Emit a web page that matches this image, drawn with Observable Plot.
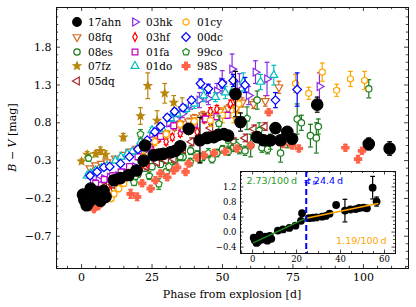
<!DOCTYPE html>
<html><head><meta charset="utf-8">
<script src="https://cdn.jsdelivr.net/npm/d3@7"></script>
<script src="https://cdn.jsdelivr.net/npm/@observablehq/plot@0.6"></script>
<style>
body{margin:0;background:#fff;}
#wrap{position:relative;width:416px;height:307px;font-family:"DejaVu Serif",serif;overflow:hidden;}
#wrap svg{position:absolute;}
.lg{position:absolute;display:flex;align-items:center;font-family:"DejaVu Serif",serif;font-size:10.5px;color:#000;white-space:nowrap;}
.lg svg{position:static !important;margin-right:5px;overflow:visible;}
</style></head><body><div id="wrap"></div>
<script>
// ---------------- data ----------------
const sn17ahnDays=[0.5,1.0,1.8,2.5,3.2,4.3,5.0,5.8,6.7,7.8,8.5,11.5,13.8,16.7,19.5,22.0,22.5,25.6,27.4,29.0,31.6,33.3,35.0,38.0,42.0,44.5,46.9,48.5,50.5,52.0,54.6,56.4,62.3,64.6,67.0,68.8,70.6,73.0,74.7,83.6,101.9,109.3];
const sn17ahnBV=[-0.15,-0.22,-0.29,-0.25,-0.07,-0.20,-0.15,-0.12,-0.23,-0.10,-0.18,0.04,0.07,0.11,0.17,0.30,0.50,0.37,0.38,0.39,0.41,0.43,0.49,0.72,0.57,0.60,0.61,0.64,0.65,0.63,1.18,0.81,0.61,0.57,0.57,0.73,0.57,0.68,0.59,1.04,0.52,0.46];
const sn17ahnErr=[0.03,0.03,0.03,0.03,0.03,0.03,0.03,0.03,0.03,0.03,0.03,0.03,0.03,0.03,0.03,0.03,0.03,0.03,0.03,0.03,0.03,0.03,0.03,0.04,0.3,0.03,0.03,0.03,0.03,0.03,0.3,0.12,0.03,0.03,0.03,0.04,0.03,0.03,0.03,0.1,0.08,0.09];

const sn08fqDays=[3,5,7,9,12,15,17,19.7,22,24.5,27,30,33,35,38,40,43,46.3,49,52,55,57,61,65.2,70];
const sn08fqBV=[0.2,0.24,0.26,0.28,0.33,0.38,0.42,0.46,0.5,0.54,0.6,0.66,0.74,0.79,0.82,0.87,0.9,0.9,0.95,0.99,1.0,1.07,1.05,1.09,1.27];
const sn08fqErr=[0.02,0.02,0.02,0.02,0.02,0.02,0.03,0.03,0.03,0.03,0.03,0.03,0.04,0.04,0.04,0.04,0.05,0.05,0.05,0.05,0.06,0.06,0.06,0.07,0.08];

const sn08esDays=[20,22.5,25,28,30,33,36,38.7,41,43,46.3,48,50,52,54,56,58,60,62.3,64,66,70.6,73,76.5,78,81.2,83.3,84,101.9];
const sn08esBV=[0.12,0.2,0.22,0.25,0.15,0.3,0.35,0.43,0.38,0.35,0.32,0.4,0.45,0.42,0.48,0.45,0.43,0.5,1.1,0.47,0.45,0.4,0.55,0.85,0.8,0.63,0.6,0.75,1.25];
const sn08esErr=[0.04,0.04,0.04,0.04,0.04,0.05,0.05,0.05,0.05,0.05,0.05,0.05,0.05,0.05,0.06,0.06,0.06,0.15,0.12,0.06,0.06,0.12,0.08,0.2,0.1,0.15,0.2,0.1,0.12];

const sn07fzDays=[0,2,5,6.7,8.5,14.8,20.9,23.5,26.8,29.5,32.7,35.7];
const sn07fzBV=[0.29,0.38,0.39,0.43,0.38,0.61,0.89,1.29,0.83,1.19,1.07,1.0];
const sn07fzErr=[0.03,0.04,0.04,0.05,0.05,0.05,0.11,0.17,0.13,0.13,0.09,0.13];

const sn05dqDays=[8,11,14,17,20,23,26.8,30,32.7,36,39,43.4,45.7,50,54,58,61.1,65];
const sn05dqBV=[-0.05,-0.02,0.02,0.08,0.15,0.22,0.28,0.3,0.32,0.45,0.55,0.87,0.73,0.65,0.55,0.6,0.72,0.75];
const sn05dqErr=[0.04,0.04,0.04,0.04,0.04,0.04,0.04,0.04,0.04,0.04,0.05,0.05,0.05,0.05,0.05,0.05,0.05,0.05];

const sn03hkDays=[4,6,8,10,13,16,19,22,25,28,31,33.5,35.7,38.7,41.8,45,48,49.9,53.4,56,59.3,61.7,65.8,84.4];
const sn03hkBV=[0.02,0.04,0.06,0.08,0.1,0.14,0.22,0.42,0.65,0.75,0.8,0.85,0.92,1.04,1.1,1.12,1.22,1.34,1.51,1.3,1.16,1.47,1.38,1.28];
const sn03hkErr=[0.02,0.02,0.02,0.02,0.03,0.03,0.03,0.03,0.04,0.04,0.05,0.05,0.05,0.06,0.1,0.08,0.1,0.15,0.2,0.15,0.12,0.15,0.22,0.18];

const sn03hfDays=[3,4.4,6,8,10,13,16,19,21,23.3,25,27.4,30,32.2,35,38,41,43.5,45.7,48,52.8,54.6];
const sn03hfBV=[-0.3,-0.33,-0.28,-0.2,-0.1,0.0,0.08,0.15,0.2,0.26,0.45,0.59,0.55,0.61,0.66,0.7,0.68,0.85,0.95,0.98,1.05,1.1];
const sn03hfErr=[0.03,0.03,0.03,0.03,0.03,0.03,0.03,0.03,0.03,0.03,0.04,0.04,0.04,0.04,0.04,0.04,0.05,0.05,0.05,0.05,0.05,0.06];

const sn01faDays=[5,8,11,14,17,20,24,28,32.7,36,40,44,48,51.7];
const sn01faBV=[0.0,0.05,0.1,0.15,0.22,0.35,0.48,0.62,0.76,0.72,0.78,0.85,0.88,0.9];
const sn01faErr=[0.04,0.04,0.04,0.04,0.04,0.04,0.04,0.04,0.04,0.04,0.04,0.04,0.04,0.04];

const sn01doDays=[2,3.2,5,7,9,12,14,16.2,18,21,25,28.6,31.6,33.9,37,40,43.3,47.5,51,54,57.4,63.5,68.2];
const sn01doBV=[0.1,0.13,0.17,0.2,0.23,0.3,0.35,0.39,0.42,0.55,0.7,0.72,0.86,0.92,0.98,1.05,1.16,1.14,1.2,1.25,1.34,1.34,1.43];
const sn01doErr=[0.03,0.03,0.03,0.03,0.03,0.03,0.03,0.03,0.03,0.03,0.04,0.04,0.04,0.04,0.04,0.06,0.08,0.06,0.08,0.08,0.12,0.1,0.13];

const sn01cyDays=[4.5,5.6,7,9,10.5,11.5,13.2,15,18,22,26,30,35,40,45.7,50,54,55.8,75.9,80.6,85.4,90.5,95.4,100.4];
const sn01cyBV=[-0.3,-0.27,-0.22,-0.2,-0.2,-0.14,-0.07,0.0,0.15,0.35,0.55,0.65,0.78,0.82,0.83,0.9,0.9,1.05,1.32,1.19,1.47,1.23,1.38,1.36];
const sn01cyErr=[0.04,0.04,0.04,0.04,0.04,0.04,0.04,0.04,0.05,0.05,0.05,0.05,0.05,0.05,0.08,0.1,0.1,0.12,0.12,0.08,0.12,0.08,0.1,0.12];

const sn00dcDays=[3,5.5,7.9,10,13.8,17,20,23.3,26,28,30.4,33,36,39,42.2,45,49.9,53.8,58,68.8,76.5];
const sn00dcBV=[0.1,0.15,0.21,0.22,0.26,0.35,0.45,0.57,0.68,0.75,0.87,0.95,1.0,1.1,1.32,1.25,1.32,1.36,1.3,1.1,1.24];
const sn00dcErr=[0.03,0.03,0.03,0.03,0.03,0.03,0.03,0.03,0.04,0.04,0.04,0.04,0.04,0.04,0.06,0.06,0.06,0.08,0.1,0.1,0.22];

const sn99coDays=[2.5,18.6,19.1,20.9,24,27.4,31,35,38.6,42,45,48.7,52,55,58.7,63,67];
const sn99coBV=[0.33,0.01,0.09,0.65,0.1,-0.01,0.22,0.35,0.28,0.33,0.4,0.79,0.57,0.5,0.86,0.7,0.55];
const sn99coErr=[0.04,0.04,0.04,0.06,0.05,0.07,0.05,0.05,0.05,0.06,0.06,0.1,0.08,0.08,0.15,0.1,0.1];

const sn98SDays=[4.4,6,17.4,19.7,21.5,24.5,26.2,28,30.4,32.7,33.9,36.9,38,41,43.4,47,51,55.2,60,66.4,70,71.5,74.7,77.1,93.6,98.1,99.5];
const sn98SBV=[-0.34,-0.3,-0.14,-0.18,0.0,-0.07,0.04,0.13,0.08,0.17,0.21,0.15,0.26,0.34,0.37,0.4,0.42,0.46,0.5,0.94,0.55,0.52,0.5,0.46,0.47,0.32,0.43];
const sn98SErr=[0.03,0.03,0.06,0.05,0.04,0.04,0.04,0.04,0.04,0.04,0.04,0.04,0.04,0.04,0.04,0.04,0.04,0.04,0.04,0.04,0.04,0.04,0.04,0.04,0.04,0.05,0.04];

// tick labels
const mainXTicks=[0,25,50,75,100];
const mainYTicks=[-0.7,-0.2,0.3,0.8,1.3,1.8];
const insetXTicks=[0,20,40,60];
const insetYTicks=[-0.4,0.0,0.4,0.8,1.2];

// inset fit parameters (two-slope fit to 17ahn)
const tBreak=24.4, vBreak=0.37, slopeEarly=2.73, slopeLate=1.19, fitStart=0.5, fitEnd=57, insetMaxDay=58;

// ---------------- symbols ----------------
function poly(pts){return {draw(ctx,size){const R=Math.sqrt(size/Math.PI);pts.forEach(([x,y],i)=>i?ctx.lineTo(x*R,y*R):ctx.moveTo(x*R,y*R));ctx.closePath();}};}
function regular(n,rotDeg,s){const a0=rotDeg*Math.PI/180;return poly(d3.range(n).map(k=>[s*Math.cos(a0+2*Math.PI*k/n),s*Math.sin(a0+2*Math.PI*k/n)]));}
const symTriDown=regular(3,90,1.3), symTriUp=regular(3,-90,1.3), symTriLeft=regular(3,180,1.3), symTriRight=regular(3,0,1.3);
const symSquare=regular(4,45,1.2), symDiamond=regular(4,-90,1.2), symHex=regular(6,-90,1.05), symPent=regular(5,-90,1.1);
const symThinDiamond=poly([[0,-1.25],[0.65,0],[0,1.25],[-0.65,0]]);
const symStar=poly(d3.range(10).map(k=>{const a=-Math.PI/2+k*Math.PI/5,r=k%2?0.6:1.35;return [r*Math.cos(a),r*Math.sin(a)];}));
const w=0.42,L=1.2;
const symPlus=poly([[-w,-L],[w,-L],[w,-w],[L,-w],[L,w],[w,w],[w,L],[-w,L],[-w,w],[-L,w],[-L,-w],[-w,-w]]);
const symCap={draw(ctx,size){const R=Math.sqrt(size/Math.PI);ctx.moveTo(-R,0);ctx.lineTo(R,0);}};

const series=[
 {name:"17ahn",color:"#000000",sym:"circle",fill:"#000000",r:5.7,lr:4.3,d:sn17ahnDays,v:sn17ahnBV,e:sn17ahnErr,col:0,row:0},
 {name:"08fq",color:"#d2691e",sym:symTriDown,fill:"white",r:3.5,lr:3.5,d:sn08fqDays,v:sn08fqBV,e:sn08fqErr,col:0,row:1},
 {name:"08es",color:"#1a7a1a",sym:"circle",fill:"white",r:3.2,lr:3.2,d:sn08esDays,v:sn08esBV,e:sn08esErr,col:0,row:2},
 {name:"07fz",color:"#b8860b",sym:symStar,fill:"#b8860b",r:2.9,lr:2.9,d:sn07fzDays,v:sn07fzBV,e:sn07fzErr,col:0,row:3},
 {name:"05dq",color:"#a52a2a",sym:symTriLeft,fill:"white",r:3.5,lr:3.5,d:sn05dqDays,v:sn05dqBV,e:sn05dqErr,col:0,row:4},
 {name:"03hk",color:"#8a2be2",sym:symTriRight,fill:"white",r:3.5,lr:3.5,d:sn03hkDays,v:sn03hkBV,e:sn03hkErr,col:1,row:0},
 {name:"03hf",color:"#ff0000",sym:symThinDiamond,fill:"white",r:3.5,lr:3.5,d:sn03hfDays,v:sn03hfBV,e:sn03hfErr,col:1,row:1},
 {name:"01fa",color:"#c000c0",sym:symSquare,fill:"white",r:3.4,lr:3.4,d:sn01faDays,v:sn01faBV,e:sn01faErr,col:1,row:2},
 {name:"01do",color:"#00bcbc",sym:symTriUp,fill:"white",r:3.5,lr:3.5,d:sn01doDays,v:sn01doBV,e:sn01doErr,col:1,row:3},
 {name:"01cy",color:"#ffa500",sym:symHex,fill:"white",r:3.2,lr:3.2,d:sn01cyDays,v:sn01cyBV,e:sn01cyErr,col:2,row:0},
 {name:"00dc",color:"#0000ff",sym:symDiamond,fill:"white",r:3.6,lr:3.6,d:sn00dcDays,v:sn00dcBV,e:sn00dcErr,col:2,row:1},
 {name:"99co",color:"#1e8c1e",sym:symPent,fill:"white",r:3.2,lr:3.2,d:sn99coDays,v:sn99coBV,e:sn99coErr,col:2,row:2},
 {name:"98S",color:"#ff6347",sym:symPlus,fill:"#ff6347",r:3.0,lr:3.2,d:sn98SDays,v:sn98SBV,e:sn98SErr,col:2,row:3}
];
const rows=s=>s.d.map((d,i)=>({d,v:s.v[i],e:s.e[i]}));

function seriesMarks(s,data,r){
  return [
    Plot.ruleX(data,{x:"d",y1:p=>p.v-p.e,y2:p=>p.v+p.e,stroke:s.color,strokeWidth:1.2}),
    Plot.dot(data,{x:"d",y:p=>p.v+p.e,symbol:symCap,r:2.4,stroke:s.color,fill:"none",strokeWidth:1.2}),
    Plot.dot(data,{x:"d",y:p=>p.v-p.e,symbol:symCap,r:2.4,stroke:s.color,fill:"none",strokeWidth:1.2}),
    Plot.dot(data,{x:"d",y:"v",symbol:s.sym,r:r,stroke:s.color,fill:s.fill,strokeWidth:1.2})
  ];
}
function tickMarks(xDom,yDom,xMaj,xStep,yMaj,yStep,FW,FH,Lmaj,Lmin){
  const inDom=(v,dom)=>v>=dom[0]-1e-9&&v<=dom[1]+1e-9;
  const near=(v,arr)=>arr.some(a=>Math.abs(a-v)<1e-6);
  const xMin=d3.range(Math.ceil(xDom[0]/xStep)*xStep,xDom[1],xStep).filter(v=>!near(v,xMaj));
  const yMin=d3.range(Math.ceil(yDom[0]/yStep-1e-9),Math.floor(yDom[1]/yStep+1e-9)+1).map(k=>+(k*yStep).toFixed(6)).filter(v=>!near(v,yMaj)&&inDom(v,yDom));
  const st={stroke:"#111",strokeWidth:0.8};
  return [
    Plot.tickX(xMaj,{x:d=>d,insetTop:FH-Lmaj,...st}),Plot.tickX(xMaj,{x:d=>d,insetBottom:FH-Lmaj,...st}),
    Plot.tickX(xMin,{x:d=>d,insetTop:FH-Lmin,...st}),Plot.tickX(xMin,{x:d=>d,insetBottom:FH-Lmin,...st}),
    Plot.tickY(yMaj,{y:d=>d,insetRight:FW-Lmaj,...st}),Plot.tickY(yMaj,{y:d=>d,insetLeft:FW-Lmaj,...st}),
    Plot.tickY(yMin,{y:d=>d,insetRight:FW-Lmin,...st}),Plot.tickY(yMin,{y:d=>d,insetLeft:FW-Lmin,...st})
  ];
}

// ---------------- main chart ----------------
const W=416,H=307,mT=7,mR=8,mB=39,mL=56;
const xDom=[-8.9,116], yDom=[-1.127,2.325];
const fmt1=d3.format(".1f"), fmt0=d3.format("d");
const marks=[];
series.slice(1).forEach(s=>marks.push(...seriesMarks(s,rows(s),s.r)));
marks.push(...seriesMarks(series[0],rows(series[0]),series[0].r));
marks.push(Plot.frame({stroke:"#111",strokeWidth:1}));
marks.push(...tickMarks(xDom,yDom,mainXTicks,5,mainYTicks,0.1,W-mL-mR,H-mT-mB,4,2.2));
marks.push(Plot.text(mainXTicks,{x:d=>d,text:d=>fmt0(d),frameAnchor:"bottom",lineAnchor:"top",textAnchor:"middle",dy:5,fontSize:11}));
marks.push(Plot.text(mainYTicks,{y:d=>d,text:d=>fmt1(d),frameAnchor:"left",textAnchor:"end",lineAnchor:"middle",dx:-5,fontSize:11}));
const main=Plot.plot({width:W,height:H,marginTop:mT,marginRight:mR,marginBottom:mB,marginLeft:mL,
  x:{domain:xDom,axis:null},y:{domain:yDom,axis:null},
  style:{fontFamily:"DejaVu Serif",fontSize:"11px",color:"#000",background:"white"},marks});
const wrap=document.getElementById("wrap");
main.style.left="0px";main.style.top="0px";
wrap.appendChild(main);
const ms=d3.select(main);
ms.append("text").attr("x",(mL+W-mR)/2).attr("y",298).attr("text-anchor","middle")
  .attr("font-family","DejaVu Serif").attr("font-size",11).attr("fill","#000").text("Phase from explosion [d]");
const yl=ms.append("text").attr("transform",`translate(16,${(mT+H-mB)/2}) rotate(-90)`).attr("text-anchor","middle")
  .attr("font-family","DejaVu Serif").attr("font-size",11).attr("fill","#000");
yl.append("tspan").attr("font-style","italic").text("B");
yl.append("tspan").text(" \u2212 ");
yl.append("tspan").attr("font-style","italic").text("V");
yl.append("tspan").text(" [mag]");

// ---------------- legend ----------------
const colMarkerX=[77,135,186], rowY0=22, rowStep=14.8;
series.forEach(s=>{
  const div=document.createElement("div");div.className="lg";
  div.style.left=(colMarkerX[s.col]-6)+"px";div.style.top=(rowY0+s.row*rowStep-7)+"px";div.style.height="14px";
  const sv=d3.create("svg").attr("width",12).attr("height",14);
  sv.append("path").attr("transform","translate(6,7)").attr("d",d3.symbol(s.sym==="circle"?d3.symbolCircle:s.sym,s.lr*s.lr*Math.PI)())
    .attr("fill",s.fill).attr("stroke",s.color).attr("stroke-width",1.2);
  div.appendChild(sv.node());
  const sp=document.createElement("span");sp.textContent=s.name;div.appendChild(sp);
  wrap.appendChild(div);
});

// ---------------- inset ----------------
const iL=205,iT=166,iW=195,iH=100,imT=5,imR=5,imB=13,imL=35;
const ixDom=[-5.5,65], iyDom=[-0.57,1.61];
const inData=rows(series[0]).filter(p=>p.d<=insetMaxDay);
const greenFit=[{t:fitStart,v:vBreak+slopeEarly/100*(fitStart-tBreak)},{t:tBreak,v:vBreak}];
const orangeFit=[{t:tBreak,v:vBreak},{t:fitEnd,v:vBreak+slopeLate/100*(fitEnd-tBreak)}];
const iMarks=[
  Plot.frame({fill:"white",stroke:"none"}),
  Plot.ruleX(inData,{x:"d",y1:p=>p.v-p.e,y2:p=>p.v+p.e,stroke:"#000",strokeWidth:1.2}),
  Plot.dot(inData,{x:"d",y:p=>p.v+p.e,symbol:symCap,r:2.4,stroke:"#000",fill:"none",strokeWidth:1.2}),
  Plot.dot(inData,{x:"d",y:p=>p.v-p.e,symbol:symCap,r:2.4,stroke:"#000",fill:"none",strokeWidth:1.2}),
  Plot.dot(inData,{x:"d",y:"v",r:3.9,fill:"#000",stroke:"none"}),
  Plot.line(greenFit,{x:"t",y:"v",stroke:"#1e8c1e",strokeWidth:1.5}),
  Plot.line(orangeFit,{x:"t",y:"v",stroke:"#ffa500",strokeWidth:1.5}),
  Plot.ruleX([tBreak],{x:d=>d,stroke:"#0000ff",strokeWidth:2,strokeDasharray:"6,3"}),
  Plot.frame({stroke:"#111",strokeWidth:1}),
  ...tickMarks(ixDom,iyDom,insetXTicks,5,insetYTicks,0.1,iW-imL-imR,iH-imT-imB,3.5,2),
  Plot.text(insetXTicks,{x:d=>d,text:d=>fmt0(d),frameAnchor:"bottom",lineAnchor:"top",textAnchor:"middle",dy:2,fontSize:8.5}),
  Plot.text(insetYTicks,{y:d=>d,text:d=>fmt1(d),frameAnchor:"left",textAnchor:"end",lineAnchor:"middle",dx:-4,fontSize:8.5}),
  Plot.text([`${slopeEarly.toFixed(2)}/100\u2009d`],{frameAnchor:"top-left",textAnchor:"start",lineAnchor:"middle",dx:6,dy:9.5,fill:"#2a9a2a",fontSize:9.5,fontFamily:"DejaVu Sans"}),
  Plot.text([`${slopeLate.toFixed(2)}/100\u2009d`],{frameAnchor:"bottom-right",textAnchor:"end",lineAnchor:"middle",dx:-9,dy:-13,fill:"#ffa500",fontSize:9.5,fontFamily:"DejaVu Sans"})
];
const inset=Plot.plot({width:iW,height:iH,marginTop:imT,marginRight:imR,marginBottom:imB,marginLeft:imL,
  x:{domain:ixDom,axis:null},y:{domain:iyDom,axis:null},
  style:{fontFamily:"DejaVu Serif",fontSize:"8.5px",color:"#000",background:"transparent"},marks:iMarks});
inset.style.left=iL+"px";inset.style.top=iT+"px";
wrap.appendChild(inset);
// t_tr annotation: separate text pieces placed next to each other at the break line
const isx=inset.scale("x");
const isel=d3.select(inset);
let tx=isx.apply(tBreak)+3;
const ty=imT+9.5;
const pieces=[
  {t:"t",style:"italic",size:9.5,dy:0,gap:2.6},
  {t:"tr",style:"italic",size:6.5,dy:2.5,gap:2.6},
  {t:`= ${tBreak}\u2009d`,style:"normal",size:9.5,dy:0,gap:0}
];
pieces.forEach(p=>{
  const el=isel.append("text").attr("x",tx).attr("y",ty+p.dy).attr("dy","0.32em")
    .attr("font-family","DejaVu Sans").attr("font-size",p.size).attr("font-style",p.style).attr("fill","#0000ff").text(p.t);
  tx+=el.node().getComputedTextLength()+p.gap;
});
</script></body></html>
